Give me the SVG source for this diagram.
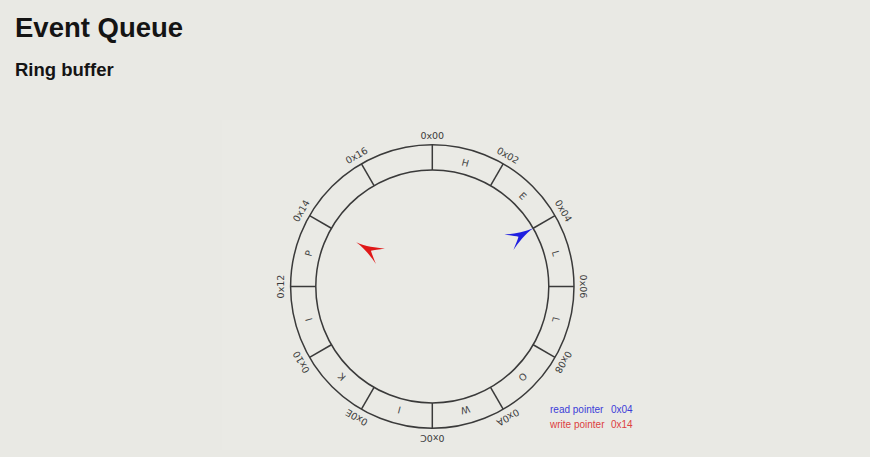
<svg xmlns="http://www.w3.org/2000/svg" xmlns:xlink="http://www.w3.org/1999/xlink" width="870" height="457" viewBox="0 0 870 457">
<style>
.title{font-family:"Liberation Sans",Arial,sans-serif;font-weight:bold;fill:#141414}
.ring{fill:none;stroke:#3a3a3a;stroke-width:1.5}
.lbl{font-family:"DejaVu Sans","Liberation Sans",sans-serif;font-size:9.5px;fill:#3a3a3a;text-anchor:middle;dominant-baseline:central}
.chr{font-family:"DejaVu Sans","Liberation Sans",sans-serif;font-size:9.5px;fill:#444;text-anchor:middle;dominant-baseline:central}
.leg{font-family:"Liberation Sans",Arial,sans-serif;font-size:10px}
</style>
<defs>
<line id="div" x1="432.3" y1="144.8" x2="432.3" y2="170" stroke="#3a3a3a" stroke-width="1.5"/>
<path id="arrow" d="M0,0 C-1,10 -5,20 -9,28 C-5,23 -2,19 0,17 C2,19 5,23 9,28 C5,20 1,10 0,0 Z"/>
</defs>
<rect width="870" height="457" fill="#e9e9e4"/>
<rect x="222" y="120" width="428" height="330" fill="#eaeae5"/>
<text class="title" x="15" y="37" font-size="27.5">Event Queue</text>
<text class="title" x="15" y="76" font-size="18.5">Ring buffer</text>
<g id="ring">
<circle class="ring" cx="432.3" cy="286.5" r="141.7"/>
<circle class="ring" cx="432.3" cy="286.5" r="116.5"/>
</g>
<g id="dividers">
<use xlink:href="#div"/>
<use xlink:href="#div" transform="rotate(30 432.3 286.5)"/>
<use xlink:href="#div" transform="rotate(60 432.3 286.5)"/>
<use xlink:href="#div" transform="rotate(90 432.3 286.5)"/>
<use xlink:href="#div" transform="rotate(120 432.3 286.5)"/>
<use xlink:href="#div" transform="rotate(150 432.3 286.5)"/>
<use xlink:href="#div" transform="rotate(180 432.3 286.5)"/>
<use xlink:href="#div" transform="rotate(210 432.3 286.5)"/>
<use xlink:href="#div" transform="rotate(240 432.3 286.5)"/>
<use xlink:href="#div" transform="rotate(270 432.3 286.5)"/>
<use xlink:href="#div" transform="rotate(300 432.3 286.5)"/>
<use xlink:href="#div" transform="rotate(330 432.3 286.5)"/>
</g>
<g id="addresses">
<text class="lbl" x="432.3" y="135" transform="rotate(0 432.3 286.5)">0x00</text>
<text class="lbl" x="432.3" y="135" transform="rotate(30 432.3 286.5)">0x02</text>
<text class="lbl" x="432.3" y="135" transform="rotate(60 432.3 286.5)">0x04</text>
<text class="lbl" x="432.3" y="135" transform="rotate(90 432.3 286.5)">0x06</text>
<text class="lbl" x="432.3" y="135" transform="rotate(120 432.3 286.5)">0x08</text>
<text class="lbl" x="432.3" y="135" transform="rotate(150 432.3 286.5)">0x0A</text>
<text class="lbl" x="432.3" y="135" transform="rotate(180 432.3 286.5)">0x0C</text>
<text class="lbl" x="432.3" y="135" transform="rotate(210 432.3 286.5)">0x0E</text>
<text class="lbl" x="432.3" y="135" transform="rotate(240 432.3 286.5)">0x10</text>
<text class="lbl" x="432.3" y="135" transform="rotate(270 432.3 286.5)">0x12</text>
<text class="lbl" x="432.3" y="135" transform="rotate(300 432.3 286.5)">0x14</text>
<text class="lbl" x="432.3" y="135" transform="rotate(330 432.3 286.5)">0x16</text>
</g>
<g id="cells">
<text class="chr" x="432.3" y="158.5" transform="rotate(15 432.3 286.5)">H</text>
<text class="chr" x="432.3" y="158.5" transform="rotate(45 432.3 286.5)">E</text>
<text class="chr" x="432.3" y="158.5" transform="rotate(75 432.3 286.5)">L</text>
<text class="chr" x="432.3" y="158.5" transform="rotate(105 432.3 286.5)">L</text>
<text class="chr" x="432.3" y="158.5" transform="rotate(135 432.3 286.5)">O</text>
<text class="chr" x="432.3" y="158.5" transform="rotate(165 432.3 286.5)">W</text>
<text class="chr" x="432.3" y="158.5" transform="rotate(195 432.3 286.5)">I</text>
<text class="chr" x="432.3" y="158.5" transform="rotate(225 432.3 286.5)">K</text>
<text class="chr" x="432.3" y="158.5" transform="rotate(255 432.3 286.5)">I</text>
<text class="chr" x="432.3" y="158.5" transform="rotate(285 432.3 286.5)">P</text>
</g>
<g id="read-pointer">
<use xlink:href="#arrow" fill="#1f1fe0" transform="translate(533.2 228.3) rotate(60)"/>
</g>
<g id="write-pointer">
<use xlink:href="#arrow" fill="#e01818" transform="translate(356.2 242.3) rotate(-60)"/>
</g>
<g id="legend">
<text class="leg" x="550" y="413" fill="#3c3cd8">read pointer</text>
<text class="leg" x="611" y="413" fill="#3c3cd8">0x04</text>
<text class="leg" x="550" y="427.5" fill="#dd4040">write pointer</text>
<text class="leg" x="611" y="427.5" fill="#dd4040">0x14</text>
</g>
</svg>
